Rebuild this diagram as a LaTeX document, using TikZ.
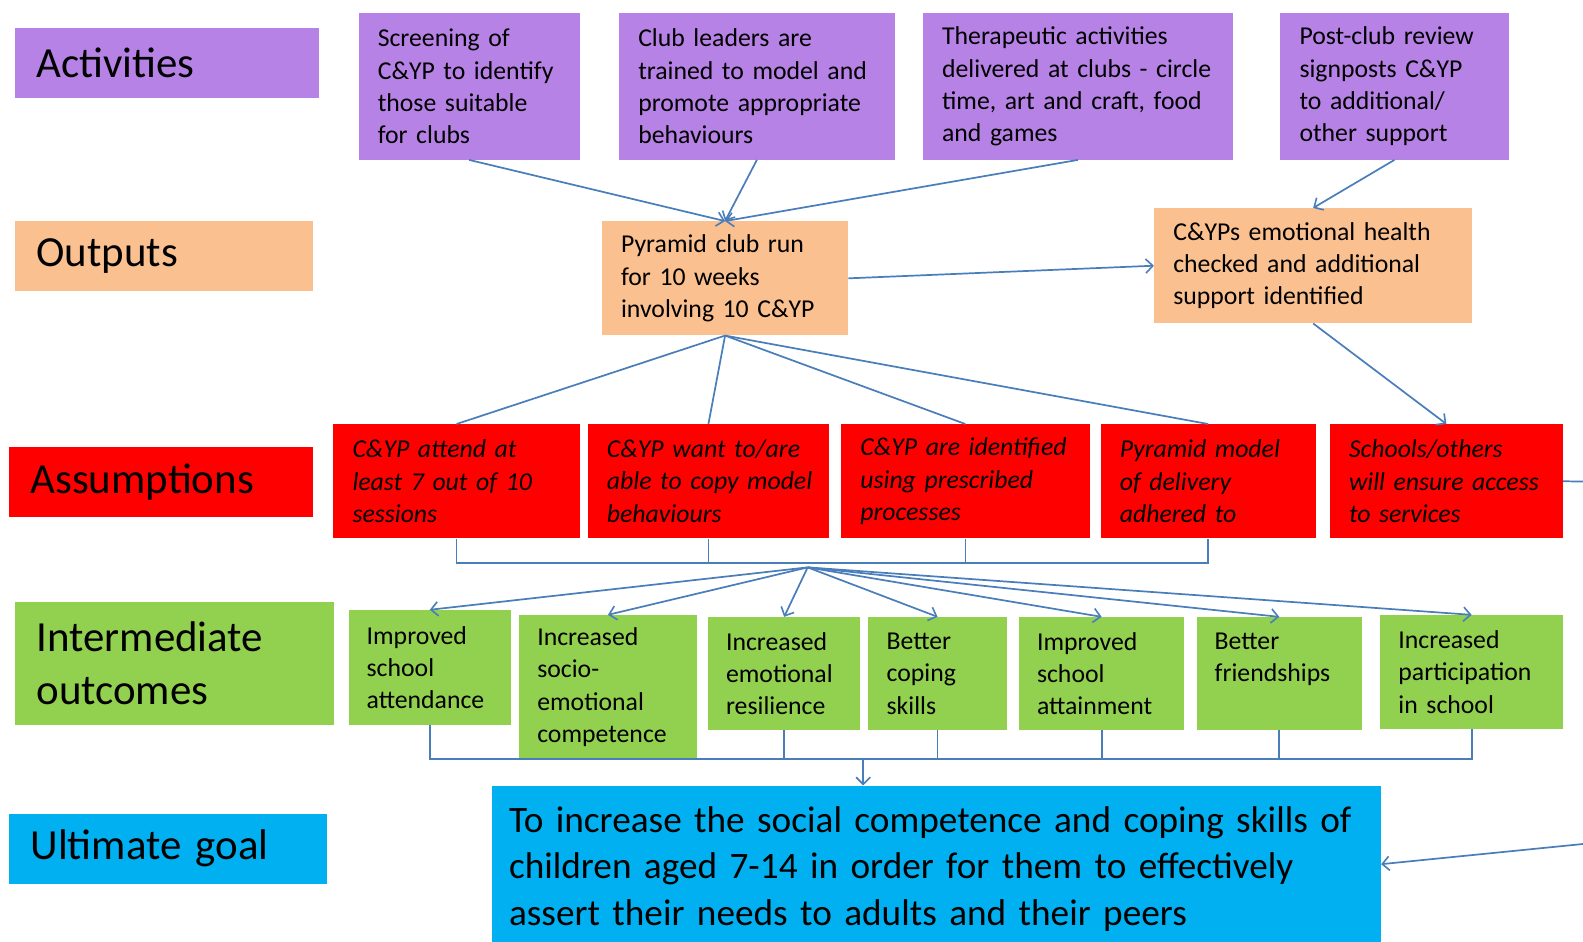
\documentclass[tikz,border=0pt]{standalone}
\usepackage{fontspec}
\setmainfont{Carlito}
\usetikzlibrary{arrows.meta,calc}
\definecolor{cpurple}{HTML}{B782E6}
\definecolor{corange}{HTML}{FAC090}
\definecolor{cred}{HTML}{FF0000}
\definecolor{cgreen}{HTML}{92D050}
\definecolor{cblue}{HTML}{00B0F0}
\definecolor{carrow}{HTML}{4A7EBB}
\newcommand\nobrk{\rightskip=-60pt plus 1fil\relax\hyphenpenalty=10000\relax}
\tikzset{
  box/.style={anchor=north west, align=left, inner ysep=0pt, inner xsep=19pt, font=\fontsize{25.5}{32}\selectfont},
  lab/.style={anchor=north west, align=left, inner ysep=0pt, inner xsep=21pt, font=\fontsize{42.5}{53}\selectfont},
  pbox/.style={box, fill=cpurple},
  obox/.style={box, fill=corange},
  rbox/.style={box, fill=cred, font=\fontsize{25.5}{32}\selectfont\itshape},
  gbox/.style={box, fill=cgreen, inner xsep=18pt},
  link/.style={draw=carrow, line width=1.7pt},
  arr/.style={link, -{Straight Barb[length=7pt,width=14pt,line width=1.6pt]}},
}
\begin{document}
\begin{tikzpicture}[x=1pt,y=-1pt]
\useasboundingbox (0,0) rectangle (1568,933);
% labels
\node[lab, fill=cpurple, minimum width=301pt, minimum height=69pt, text width=259pt] (l1) at (15,28) {\nobrk Activities};
\node[lab, fill=corange, minimum width=295pt, minimum height=69pt, text width=253pt] (l2) at (15,219) {\nobrk Outputs};
\node[lab, fill=cred, minimum width=301pt, minimum height=69pt, text width=259pt] (l3) at (9,443) {\nobrk Assumptions};
\node[lab, fill=cgreen, minimum width=316pt, minimum height=122pt, text width=274pt] (l4) at (15,596) {\nobrk Intermediate\\outcomes};
\node[lab, fill=cblue, minimum width=315pt, minimum height=69pt, text width=273pt] (l5) at (9,806) {\nobrk Ultimate goal};
% activities
\node[pbox, minimum width=219pt, minimum height=145pt, text width=181pt] (a1) at (355,13) {\nobrk Screening of\\C\&YP to identify\\those suitable\\for clubs};
\node[pbox, minimum width=273pt, minimum height=145pt, text width=235pt] (a2) at (613,13) {\nobrk Club leaders are\\trained to model and\\promote appropriate\\behaviours};
\node[pbox, minimum width=307pt, minimum height=145pt, text width=269pt] (a3) at (914,13) {\nobrk Therapeutic activities\\delivered at clubs - circle\\time, art and craft, food\\and games};
\node[pbox, minimum width=226pt, minimum height=145pt, text width=188pt] (a4) at (1268,13) {\nobrk Post-club review\\signposts C\&YP\\to additional/\\other support};
% outputs
\node[obox, minimum width=244pt, minimum height=113pt, text width=206pt] (o1) at (596,219) {\nobrk Pyramid club run\\for 10 weeks\\involving 10 C\&YP};
\node[obox, minimum width=315pt, minimum height=114pt, text width=277pt] (o2) at (1143,206) {\nobrk C\&YPs emotional health\\checked and additional\\support identified};
% assumptions
\node[rbox, minimum width=244pt, minimum height=113pt, text width=206pt] (s1) at (330,420) {\nobrk C\&YP attend at\\least 7 out of 10\\sessions};
\node[rbox, minimum width=239pt, minimum height=113pt, text width=201pt] (s2) at (582,420) {\nobrk C\&YP want to/are\\able to copy model\\behaviours};
\node[rbox, minimum width=246pt, minimum height=113pt, text width=208pt] (s3) at (833,420) {\nobrk C\&YP are identified\\using prescribed\\processes};
\node[rbox, minimum width=213pt, minimum height=113pt, text width=175pt] (s4) at (1090,420) {\nobrk Pyramid model\\of delivery\\adhered to};
\node[rbox, minimum width=231pt, minimum height=113pt, text width=193pt] (s5) at (1317,420) {\nobrk Schools/others\\will ensure access\\to services};
% intermediate outcomes
\node[gbox, minimum width=161pt, minimum height=114pt, text width=125pt] (i1) at (345,604) {\nobrk Improved\\school\\attendance};
\node[gbox, minimum width=176pt, minimum height=143pt, text width=140pt] (i2) at (514,609) {\nobrk Increased\\socio-\\emotional\\competence};
\node[gbox, minimum width=151pt, minimum height=112pt, text width=115pt] (i3) at (701,611) {\nobrk Increased\\emotional\\resilience};
\node[gbox, minimum width=137pt, minimum height=112pt, text width=101pt] (i4) at (860,611) {\nobrk Better\\coping\\skills};
\node[gbox, minimum width=164pt, minimum height=112pt, text width=128pt] (i5) at (1009,611) {\nobrk Improved\\school\\attainment};
\node[gbox, minimum width=164pt, minimum height=112pt, text width=128pt] (i6) at (1185,611) {\nobrk Better\\friendships\\\mbox{}};
\node[gbox, minimum width=181pt, minimum height=113pt, text width=145pt] (i7) at (1367,609) {\nobrk Increased\\participation\\in school};
% goal
\node[box, fill=cblue, inner xsep=17pt, minimum width=881pt, minimum height=165pt, text width=847pt, font=\fontsize{36.9}{46}\selectfont] (g) at (487,778) {\nobrk To increase the social competence and coping skills of\\children aged 7-14 in order for them to effectively\\assert their needs to adults and their peers};
% coordinates
\coordinate (b1) at (0,558);
\coordinate (f) at (800,562);
\coordinate (b2) at (0,752);
\coordinate (gin) at (855,752);
\coordinate (r1) at (1568,477);
\coordinate (r2) at (1568,836);
\coordinate (gr) at (1368,856);
% connectors activities -> outputs
\draw[arr] (a1.south) -- (o1.north);
\draw[arr] (a2.south) -- (o1.north);
\draw[arr] (a3.south) -- (o1.north);
\draw[arr] (a4.south) -- (o2.north);
\draw[arr] (o1.east) -- (o2.west);
% outputs -> assumptions
\draw[link] (o1.south) -- (s1.north);
\draw[link] (o1.south) -- (s2.north);
\draw[link] (o1.south) -- (s3.north);
\draw[link] (o1.south) -- (s4.north);
\draw[arr] (o2.south) -- (s5.north);
\draw[link] (s5.east) -- (r1);
% bracket under assumptions
\draw[link] (s1.south) |- (b1 -| s4.south) -- (s4.south);
\draw[link] (s2.south) -- (s2.south |- b1);
\draw[link] (s3.south) -- (s3.south |- b1);
% fan to intermediate outcomes
\foreach \t in {i1,i2,i3,i4,i5,i6,i7}{
  \draw[arr] (f) -- (\t.north);
}
% bracket under intermediate outcomes
\draw[link] (i1.south) |- (b2 -| i7.south) -- (i7.south);
\foreach \t in {i3,i4,i5,i6}{
  \draw[link] (\t.south) -- (\t.south |- b2);
}
\draw[arr] (gin) -- (gin |- g.north);
\draw[arr] (r2) -- (gr);
\end{tikzpicture}
\end{document}
